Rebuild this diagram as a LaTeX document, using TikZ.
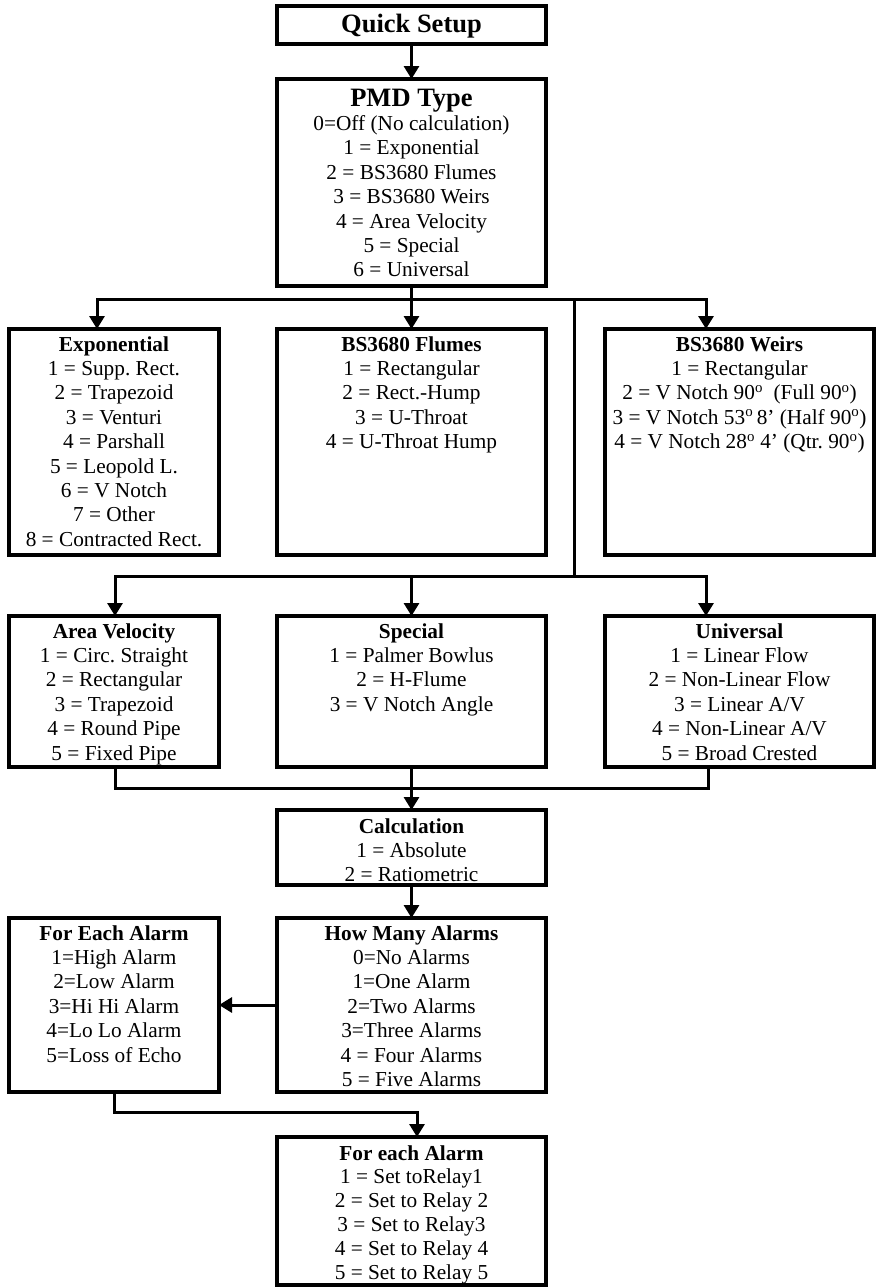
\documentclass[tikz,border=0pt]{standalone}
\usepackage{fontspec}
\setmainfont{Liberation Serif}
\usetikzlibrary{arrows.meta}
\newcommand{\bxc}[5][24.4]{\parbox[c][#3pt][t]{#2pt}{\centering\fontsize{21.3}{#1}\selectfont\frenchspacing\rule{0pt}{#4pt}#5}}
\newcommand{\dg}{\textsuperscript{o}}
\begin{document}
\begin{tikzpicture}[x=1pt,y=-1pt,
  box/.style={draw, line width=4pt, inner sep=0pt, outer sep=0pt, anchor=north west, fill=white},
  conn/.style={line width=3pt},
  arr/.style={conn, -{Triangle[width=15pt,length=13pt]}}]
\useasboundingbox[fill=white] (0,0) rectangle (876,1288);

\node[box] (qs) at (277,6) {\bxc{269}{38}{26}{\fontsize{26.5}{28}\selectfont\textbf{Quick Setup}}};
\node[box] (pmd) at (277,79) {\bxc{269}{207}{27}{{\fontsize{26.5}{24.4}\selectfont\textbf{PMD Type}}\\
  0=Off (No calculation)\\ 1 = Exponential\\ 2 = BS3680 Flumes\\ 3 = BS3680 Weirs\\ 4 = Area Velocity\\ 5 = Special\\ 6 = Universal}};

\node[box] (exp) at (9,329) {\bxc{210}{226}{22}{\textbf{Exponential}\\
  1 = Supp. Rect.\\ 2 = Trapezoid\\ 3 = Venturi\\ 4 = Parshall\\ 5 = Leopold L.\\ 6 = V Notch\\ 7 = Other\\ 8 = Contracted Rect.}};
\node[box] (flu) at (277,329) {\bxc{269}{226}{22}{\textbf{BS3680 Flumes}\\
  1 = Rectangular\\ 2 = Rect.-Hump\\ 3 = U-Throat\\ 4 = U-Throat Hump}};
\node[box] (weir) at (605,329) {\bxc{269}{226}{22}{\textbf{BS3680 Weirs}\\
  1 = Rectangular\\ 2 = V Notch 90\dg\ \ (Full 90\dg)\\ 3 = V Notch 53\dg\,8’ (Half 90\dg)\\ 4 = V Notch 28\dg{} 4’ (Qtr. 90\dg)}};

\node[box] (av) at (9,616) {\bxc{210}{151}{22}{\textbf{Area Velocity}\\
  1 = Circ. Straight\\ 2 = Rectangular\\ 3 = Trapezoid\\ 4 = Round Pipe\\ 5 = Fixed Pipe}};
\node[box] (spec) at (277,616) {\bxc{269}{151}{22}{\textbf{Special}\\
  1 = Palmer Bowlus\\ 2 = H-Flume\\ 3 = V Notch Angle}};
\node[box] (uni) at (605,616) {\bxc{269}{151}{22}{\textbf{Universal}\\
  1 = Linear Flow\\ 2 = Non-Linear Flow\\ 3 = Linear A/V\\ 4 = Non-Linear A/V\\ 5 = Broad Crested}};

\node[box] (calc) at (277,810) {\bxc{269}{75}{23}{\textbf{Calculation}\\
  1 = Absolute\\ 2 = Ratiometric}};
\node[box] (how) at (277,918) {\bxc{269}{174}{22}{\textbf{How Many Alarms}\\
  0=No Alarms\\ 1=One Alarm\\ 2=Two Alarms\\ 3=Three Alarms\\ 4 = Four Alarms\\ 5 = Five Alarms}};
\node[box] (fea) at (9,918) {\bxc{210}{174}{22}{\textbf{For Each Alarm}\\
  1=High Alarm\\ 2=Low Alarm\\ 3=Hi Hi Alarm\\ 4=Lo Lo Alarm\\ 5=Loss of Echo}};
\node[box] (fer) at (277,1137) {\bxc[23.8]{269}{148}{23}{\textbf{For each Alarm}\\
  1 = Set toRelay1\\ 2 = Set to Relay 2\\ 3 = Set to Relay3\\ 4 = Set to Relay 4\\ 5 = Set to Relay 5}};

\coordinate (h1L) at (97,299);
\coordinate (h1R) at (706,299);
\coordinate (v2T) at (574,299);
\coordinate (v2B) at (574,576);
\coordinate (h2L) at (115,576);
\coordinate (h2R) at (706,576);
\coordinate (mL) at (115,788);
\coordinate (mR) at (708,788);
\coordinate (k) at (417,1112);

\draw[arr] (qs) -- (pmd);
\draw[arr] (pmd) -- (flu);
\draw[arr] (pmd.south |- h1L) -| (h1L |- exp.north);
\draw[arr] (pmd.south |- h1R) -| (h1R |- weir.north);
\draw[conn] (v2T) -- (v2B);
\draw[arr] (v2B) -| (h2L |- av.north);
\draw[arr] (v2B) -| (h2R |- uni.north);
\draw[arr] (v2B -| spec.north) -- (spec.north);
\draw[conn] (mL |- av.south) -- (mL) -- (mR) -- (mR |- uni.south);
\draw[arr] (spec) -- (calc);
\draw[arr] (calc) -- (how);
\draw[arr] (how) -- (fea);
\draw[arr] (fea.south) |- (k) -- (k |- fer.north);
\end{tikzpicture}
\end{document}
